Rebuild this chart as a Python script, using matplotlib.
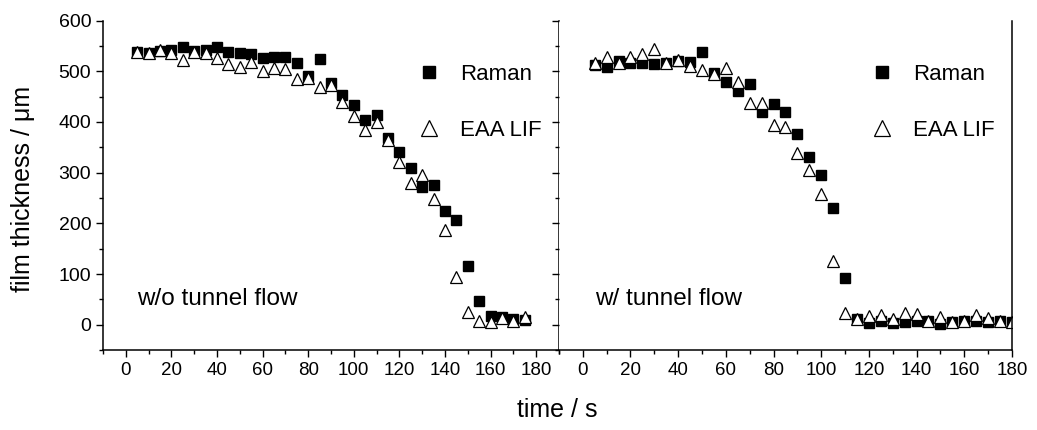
from matplotlib import pyplot as plt
from matplotlib.ticker import MultipleLocator

plt.rcParams["font.family"] = ["Liberation Sans", "DejaVu Sans"]

# time axis (s)
t_left = list(range(5, 180, 5))
t_right = list(range(5, 185, 5))

# w/o tunnel flow
raman_left = [538, 536, 540, 542, 548, 540, 542, 547, 538, 536, 534, 527, 528, 529, 516,
              490, 524, 477, 454, 434, 404, 414, 368, 341, 310, 271, 276, 225, 206, 116,
              47, 18, 16, 11, 10]
lif_left = [539, 536, 542, 536, 523, 539, 536, 526, 514, 509, 519, 501, 506, 504, 485,
            487, 470, 473, 440, 412, 385, 399, 365, 321, 279, 296, 248, 186, 95, 26,
            7, 5, 14, 8, 15]

# w/ tunnel flow
raman_right = [513, 509, 521, 516, 517, 514, 517, 521, 518, 539, 497, 478, 462, 475, 420,
               436, 420, 376, 330, 296, 230, 92, 11, 3, 8, 3, 5, 7, 8, 1,
               5, 7, 8, 5, 7, 5]
lif_right = [516, 528, 516, 529, 534, 544, 517, 523, 511, 503, 494, 506, 478, 438, 437,
             394, 391, 339, 305, 258, 125, 23, 11, 18, 20, 12, 23, 21, 8, 15,
             6, 8, 20, 13, 7, 5]

fig = plt.figure(figsize=(10.37, 4.30), dpi=100)
ax1 = fig.add_axes([0.0993, 0.186, 0.4397, 0.766])
ax2 = fig.add_axes([0.539, 0.186, 0.4368, 0.766])

panels = [
    (ax1, t_left, raman_left, lif_left, "w/o tunnel flow", (-10, 190)),
    (ax2, t_right, raman_right, lif_right, "w/ tunnel flow", (-10, 180)),
]

for ax, t, raman, lif, note, xlim in panels:
    ax.plot(t, raman, "s", color="black", markersize=6.5, label="Raman")
    ax.plot(t, lif, "^", markerfacecolor="white", markeredgecolor="black",
            markeredgewidth=0.9, markersize=8.5, label="EAA LIF")
    ax.set_xlim(xlim)
    ax.set_ylim(-50, 600)
    ax.xaxis.set_major_locator(MultipleLocator(20))
    ax.xaxis.set_minor_locator(MultipleLocator(10))
    ax.yaxis.set_major_locator(MultipleLocator(100))
    ax.yaxis.set_minor_locator(MultipleLocator(50))
    ax.spines["top"].set_visible(False)
    for s in ax.spines.values():
        s.set_linewidth(1.1)
    ax.tick_params(which="major", direction="out", length=5, width=1)
    ax.tick_params(which="minor", direction="out", length=3, width=1)
    ax.tick_params(axis="y", labelsize=14)
    ax.tick_params(axis="x", labelsize=13.5)
    ax.set_xticks(range(0, 181, 20))
    ax.text(5, 38, note, fontsize=17.5)
    ax.legend(loc="upper right", bbox_to_anchor=(0.962, 0.868), frameon=False,
              borderpad=0, borderaxespad=0,
              fontsize=16, labelspacing=1.55, handletextpad=0.8, markerscale=1.4,
              handlelength=1.2)

ax2.tick_params(axis="y", which="both", labelleft=False)
ax2.spines["left"].set_visible(False)

ax1.set_ylabel("film thickness / \u03bcm", fontsize=18)
ax1.yaxis.set_label_coords(-0.148, 0.49)
fig.text(0.537, 0.03, "time / s", fontsize=18, ha="center")

plt.savefig("out.png", dpi=100)
